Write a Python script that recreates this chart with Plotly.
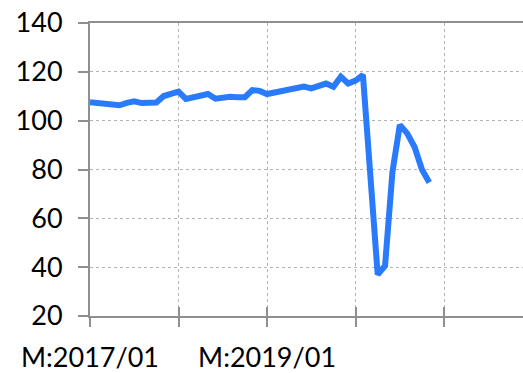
import plotly.graph_objects as go

# Monthly index values, 2017/01 through 2020/11
months = [f"M:{y}/{m:02d}" for y in range(2017, 2021) for m in range(1, 13)][:47]
values = [
    107.5, 107.1, 107.0, 106.4, 106.3, 107.3, 107.9, 107.2, 107.4, 107.4, 110.1, 110.7,
    111.9, 108.9, 109.6, 109.8, 110.9, 109.0, 109.6, 109.8, 109.6, 109.6, 112.5, 112.2,
    110.9, 111.4, 112.5, 113.0, 113.1, 114.0, 113.2, 114.5, 115.2, 113.9, 118.0, 115.2,
    116.4, 118.7, 76.0, 37.0, 40.6, 79.0, 98.2, 94.8, 89.2, 80.0, 74.7,
]
y_ticks = [20, 40, 60, 80, 100, 120, 140]
x_tick_months = ["M:2017/01", "M:2018/01", "M:2019/01", "M:2020/01", "M:2021/01"]
x_tick_labels = ["M:2017/01", "", "M:2019/01", "", ""]

x = list(range(len(months)))
x_tick_pos = [12 * i for i in range(len(x_tick_months))]
x_range = [0, 58.7]

axis_grey = "#8f8f8f"
grid_grey = "#b4b4b4"
font = dict(family="Lato, Open Sans, sans-serif", size=27, color="#000000")

fig = go.Figure()
fig.add_trace(go.Scatter(
    x=x, y=values, mode="lines",
    line=dict(color="#2a7bfb", width=6),
    text=months, hoverinfo="text+y",
    showlegend=False,
))
# invisible trace on the overlay axis so the inward tick marks are drawn
fig.add_trace(go.Scatter(x=x_range, y=[None, None], xaxis="x2", showlegend=False, hoverinfo="skip"))

fig.update_layout(
    width=523, height=373,
    margin=dict(l=90, r=0, t=23, b=54),
    paper_bgcolor="white", plot_bgcolor="white",
    font=font,
    xaxis=dict(
        range=x_range, tickmode="array", tickvals=x_tick_pos, ticktext=x_tick_labels,
        ticks="outside", ticklen=9, tickwidth=2, tickcolor=axis_grey,
        showline=True, linecolor=axis_grey, linewidth=2, mirror=True,
        showgrid=True, gridcolor=grid_grey, griddash="dot", gridwidth=1,
        zeroline=False, tickfont=font, ticklabelstandoff=8,
    ),
    xaxis2=dict(
        range=x_range, overlaying="x", tickmode="array", tickvals=x_tick_pos,
        showticklabels=False, ticks="inside", ticklen=9, tickwidth=2, tickcolor=axis_grey,
        showgrid=False, showline=False, zeroline=False, side="bottom",
    ),
    yaxis=dict(
        range=[20, 140], tickmode="array", tickvals=y_ticks,
        ticks="outside", ticklen=10, tickwidth=2, tickcolor=axis_grey,
        showline=True, linecolor=axis_grey, linewidth=2,
        showgrid=True, gridcolor=grid_grey, griddash="dot", gridwidth=1,
        zeroline=False, tickfont=font, ticklabelstandoff=10,
    ),
)

fig.write_html("out.html")
